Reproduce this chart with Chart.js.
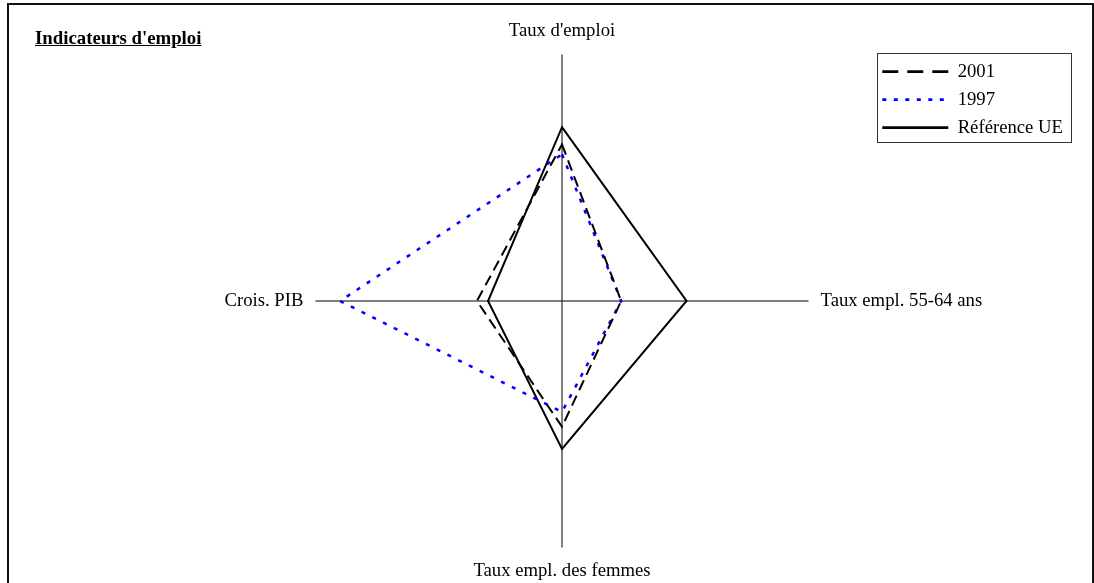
<!DOCTYPE html>
<html>
<head>
<meta charset="utf-8">
<script src="https://cdn.jsdelivr.net/npm/chart.js@4"></script>
<style>
  html, body { margin: 0; padding: 0; background: #fff; }
  #wrap { position: relative; width: 1094px; height: 583px; overflow: hidden; }
  #frame { position: absolute; left: 7px; top: 3px; width: 1087px; height: 620px;
           border: 2px solid #111; box-sizing: border-box; }
  #title { position: absolute; left: 35px; top: 29px; font: bold 18.8px "Liberation Serif", serif;
           line-height: 18px; text-decoration: underline; color: #000; }
  #myChart { position: absolute; left: 0; top: 0; }
</style>
</head>
<body>
<div id="wrap">
  <div id="frame"></div>
  <canvas id="myChart" width="1094" height="583"></canvas>
  <div id="title">Indicateurs d'emploi</div>
</div>
<script>
// axes of the radar, clockwise from the top
const categories = ["Taux d'emploi", "Taux empl. 55-64 ans", "Taux empl. des femmes", "Crois. PIB"];
// values (0-100 scale)
const values2001 = [63.5, 24, 51, 34.5];
const values1997 = [59.5, 24, 45, 90];
const valuesUE = [70.5, 50.5, 60, 30];
const seriesNames = ['2001', '1997', 'Référence UE'];

const serif = "'Liberation Serif', 'Times New Roman', serif";

// dash patterns for the little legend samples (longer than on the plot)
const legendDash = [[16, 9], [4, 7.5], []];

// put the legend in the top right corner with a box round it
const legendBox = {
  id: 'legendBox',
  afterLayout(chart) {
    let lg = chart.legend;
    lg.left = 873;
    lg.top = 53;
    lg.width = 210;
    lg.height = 120;
    lg.right = lg.left + lg.width;
    lg.bottom = lg.top + lg.height;
  },
  afterDraw(chart) {
    let ctx = chart.ctx;
    ctx.save();
    ctx.strokeStyle = '#333';
    ctx.lineWidth = 1;
    ctx.strokeRect(877.5, 53.5, 194, 89);
    ctx.restore();
  }
};

let ctx = document.getElementById('myChart').getContext('2d');

let myChart = new Chart(ctx, {
  type: 'radar',
  data: {
    labels: categories,
    datasets: [{
      label: seriesNames[0],
      data: values2001,
      borderColor: '#000',
      borderWidth: 2,
      borderDash: [11, 6],
      fill: false,
      pointRadius: 0
    }, {
      label: seriesNames[1],
      data: values1997,
      borderColor: '#0000ff',
      borderWidth: 2.5,
      borderDash: [4, 8],
      fill: false,
      pointRadius: 0
    }, {
      label: seriesNames[2],
      data: valuesUE,
      borderColor: '#000',
      borderWidth: 2,
      fill: false,
      pointRadius: 0
    }]
  },
  options: {
    responsive: false,
    animation: false,
    layout: {
      padding: { top: 21, bottom: 0, left: 30, right: 0 }
    },
    elements: {
      line: { tension: 0 }
    },
    scales: {
      r: {
        min: 0,
        max: 100,
        ticks: { display: false },
        grid: { display: false },
        angleLines: { display: true, color: '#000', lineWidth: 1 },
        pointLabels: {
          color: '#000',
          padding: 12,
          font: { family: serif, size: 18.7 }
        }
      }
    },
    plugins: {
      tooltip: { enabled: false },
      legend: {
        position: 'chartArea',
        align: 'start',
        labels: {
          color: '#000',
          font: { family: serif, size: 18.7 },
          usePointStyle: true,
          pointStyleWidth: 66,
          padding: 9.3,
          generateLabels: (chart) => {
            let items = Chart.defaults.plugins.legend.labels.generateLabels(chart);
            items.forEach((it, i) => {
              it.pointStyle = 'line';
              it.lineDash = legendDash[i];
              it.lineWidth = 2.6;
              it.fillStyle = it.strokeStyle;
            });
            return items;
          }
        }
      }
    }
  },
  plugins: [legendBox]
});
</script>
</body>
</html>
